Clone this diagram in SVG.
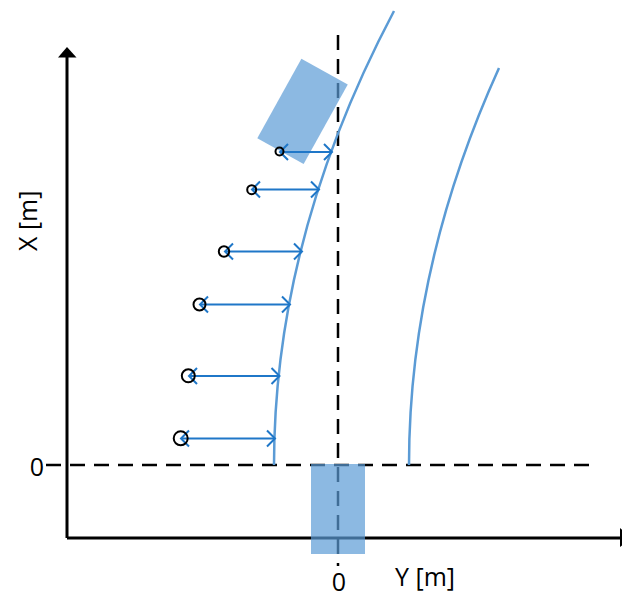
<svg xmlns="http://www.w3.org/2000/svg" width="622" height="597" viewBox="0 0 622 597">
<defs>
<style>
.axis{stroke:#000;stroke-width:3;fill:none}
.dash{stroke:#000;stroke-width:2.5;fill:none;stroke-dasharray:15 9}
.lane{stroke:#5b9bd5;stroke-width:2.5;fill:none}
.meas{stroke:#1f77c8;stroke-width:2;fill:none;marker-start:url(#chev);marker-end:url(#chev)}
.pt{stroke:#000;stroke-width:2;fill:none}
.car{fill:#5b9bd5;fill-opacity:0.7}
.lbl{font-family:"Open Sans","Liberation Sans",sans-serif;font-size:25px;fill:#000}
</style>
<marker id="chev" viewBox="-10 -10 12 20" markerWidth="12" markerHeight="20" refX="0" refY="0" markerUnits="userSpaceOnUse" orient="auto-start-reverse">
<path d="M-8,-8 L0,0 L-8,8" fill="none" stroke="#1f77c8" stroke-width="2"/>
</marker>
</defs>
<g id="axes">
<line class="dash" x1="46" y1="465" x2="597" y2="465"/>
<line class="dash" x1="338" y1="35" x2="338" y2="566"/>
<line class="axis" x1="67" y1="538" x2="622" y2="538"/>
<polygon points="620,528 620,547 632,538" fill="#000"/>
<line class="axis" x1="67" y1="538" x2="67" y2="56"/>
<polygon points="67,47 58,57.5 76.5,57.5" fill="#000"/>
</g>
<g id="lanes">
<path class="lane" d="M274,465 Q274,238 394,11"/>
<path class="lane" d="M409,465 Q409,266.5 499,68"/>
</g>
<g id="ego-car"><rect class="car" x="311" y="464" width="54" height="90"/></g>
<g id="target-car"><rect class="car" x="276" y="66" width="53" height="91" transform="rotate(29 302.7 111.5)"/></g>
<g id="connectors">
<line class="meas" x1="280" y1="152" x2="332" y2="152"/>
<line class="meas" x1="252" y1="189.5" x2="319" y2="189.5"/>
<line class="meas" x1="225" y1="251.5" x2="302" y2="251.5"/>
<line class="meas" x1="200" y1="304.5" x2="290" y2="304.5"/>
<line class="meas" x1="189" y1="376" x2="279.5" y2="376"/>
<line class="meas" x1="181" y1="438.5" x2="275" y2="438.5"/>
</g>
<g id="points">
<circle class="pt" cx="279.5" cy="151.5" r="4"/>
<circle class="pt" cx="251.7" cy="189.7" r="4.5"/>
<circle class="pt" cx="224" cy="251.5" r="5.2"/>
<circle class="pt" cx="199.5" cy="304.5" r="6"/>
<circle class="pt" cx="188.3" cy="375.8" r="6.5"/>
<circle class="pt" cx="180.7" cy="438.3" r="7"/>
</g>
<g id="labels">
<text class="lbl" transform="translate(37,251) rotate(-90)">X [m]</text>
<text class="lbl" x="37" y="476" text-anchor="middle">0</text>
<text class="lbl" x="339" y="591" text-anchor="middle">0</text>
<text class="lbl" x="395" y="586">Y [m]</text>
</g>
</svg>
